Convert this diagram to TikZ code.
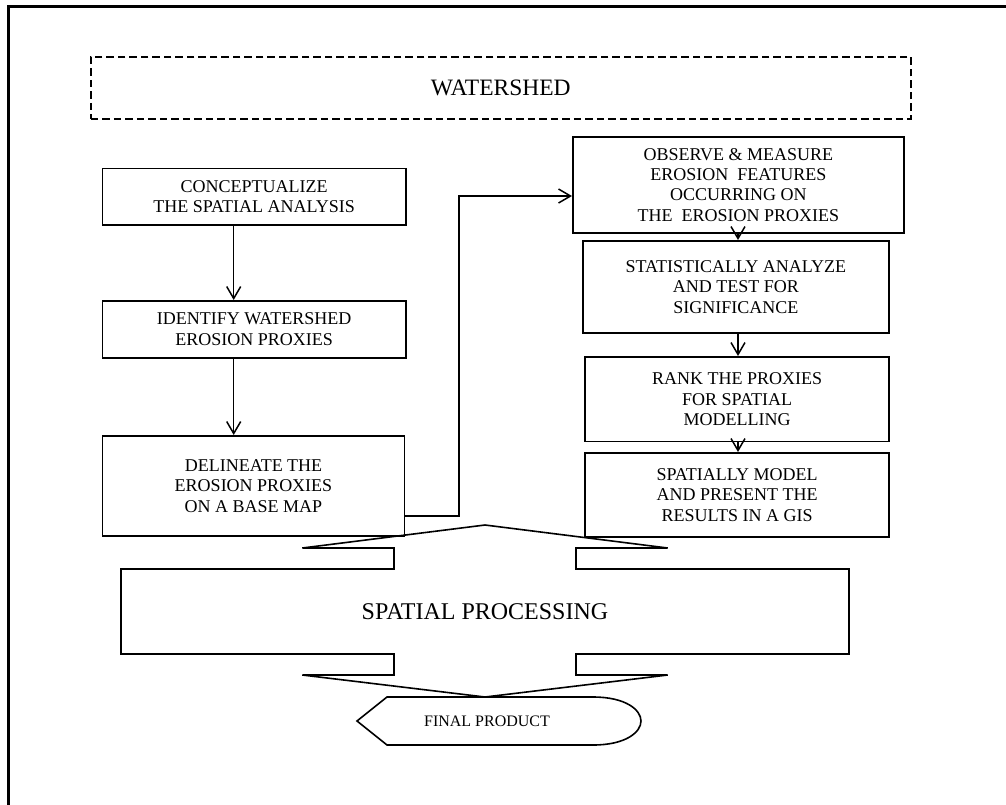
\documentclass[tikz,border=0pt]{standalone}
\usepackage{fontspec}
\setmainfont{Liberation Serif}
\usetikzlibrary{arrows.meta}
\begin{document}
\begin{tikzpicture}[x=1pt,y=-1pt,
  box/.style={draw, line width=1.6pt, align=center, inner sep=0pt, anchor=north west,
    font=\fontsize{18}{20.4}\selectfont},
  arr/.style={line width=1.5pt, -{Straight Barb[length=12pt,width=14pt,line width=1.5pt]}},
  outline/.style={line width=1.6pt, line join=miter}
]
\useasboundingbox (0,0) rectangle (1006,804);
\clip (0,0) rectangle (1006,804);
\fill[white] (0,0) rectangle (1006,804);
% frame
\draw[line width=3pt] (8.5,810) -- (8.5,6.5) -- (1010,6.5);
% watershed
\node[draw, line width=1.6pt, dash pattern=on 7.5pt off 4pt, minimum width=820pt, minimum height=62pt,
  anchor=north west, inner sep=0pt, font=\fontsize{23.5}{26}\selectfont] (ws) at (90,56) {WATERSHED};
% left column
\node[box, minimum width=303.3pt, minimum height=56.3pt] (b1) at (101.7,167.7) {CONCEPTUALIZE\\THE SPATIAL ANALYSIS};
\node[box, minimum width=303.3pt, minimum height=57pt] (b2) at (101.7,300) {IDENTIFY WATERSHED\\EROSION PROXIES};
\node[box, minimum width=302pt, minimum height=100pt] (b3) at (101.7,435) {DELINEATE THE\\EROSION PROXIES\\ON A BASE MAP};
% right column
\node[box, minimum width=331pt, minimum height=96pt] (r1) at (572,136) {OBSERVE \& MEASURE\\EROSION\ \ FEATURES\\OCCURRING ON\\THE\ \ EROSION PROXIES};
\node[box, minimum width=306pt, minimum height=92pt] (r2) at (582,240) {STATISTICALLY ANALYZE\\AND TEST FOR\\SIGNIFICANCE};
\node[box, minimum width=304pt, minimum height=84.7pt] (r3) at (584.3,356) {RANK THE PROXIES\\FOR SPATIAL\\MODELLING};
\node[box, minimum width=304pt, minimum height=84pt] (r4) at (584.3,452) {SPATIALLY MODEL\\AND PRESENT THE\\RESULTS IN A GIS};
% arrows
\draw[arr] (b1.south -| 233.7,0) -- (b2.north -| 233.7,0);
\draw[arr] (b2.south -| 233.7,0) -- (b3.north -| 233.7,0);
\draw[arr] (b3.east |- 0,516) -- (459,516) -- (459,196) -- (r1.west |- 0,196);
\draw[arr] (r1.south -| 738,0) -- (r2.north -| 738,0);
\draw[arr] (r2.south -| 738,0) -- (r3.north -| 738,0);
\draw[arr] (r3.south -| 738,0) -- (r4.north -| 738,0);
% spatial processing double arrow callout
\draw[outline] (485,525) -- (667.7,548) -- (576,548) -- (576,569) -- (849,569) -- (849,654)
  -- (576,654) -- (576,675) -- (667.7,675) -- (485,697) -- (302.3,675) -- (394,675) -- (394,654)
  -- (121,654) -- (121,569) -- (394,569) -- (394,548) -- (302.3,548) -- cycle;
\node[font=\fontsize{24}{28}\selectfont, inner sep=0pt] (sp) at (485,611.5) {SPATIAL PROCESSING};
% final product display shape
\draw[outline] (357,721) -- (387,697) -- (593,697) .. controls (626,697) and (641,710) .. (641,721)
  .. controls (641,732) and (626,745) .. (593,745) -- (387,745) -- cycle;
\node[font=\fontsize{16}{19}\selectfont, inner sep=0pt] (fp) at (487,721) {FINAL PRODUCT};
\end{tikzpicture}
\end{document}
